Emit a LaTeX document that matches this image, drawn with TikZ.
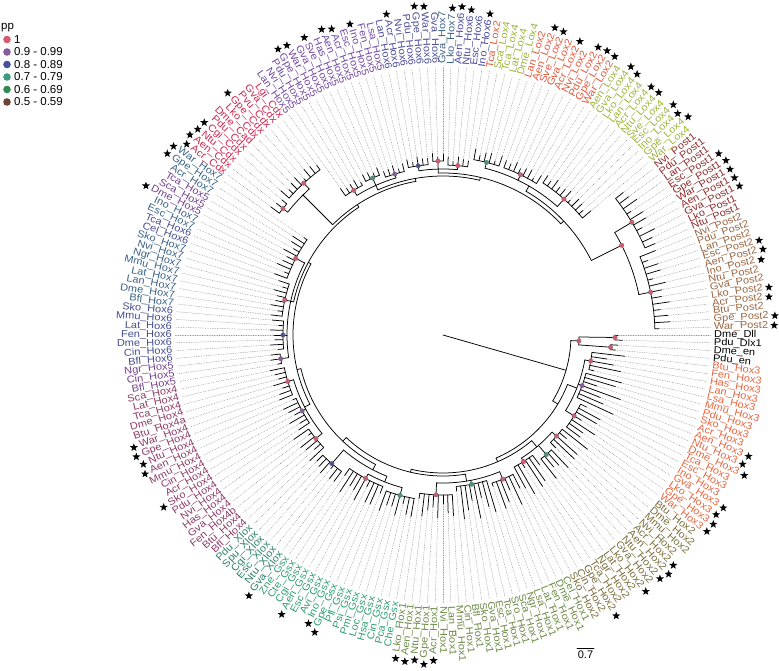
\documentclass[tikz,border=0pt]{standalone}
\usepackage{fontspec}
\usepackage{graphicx}
\setmainfont{Liberation Sans}
\usetikzlibrary{shapes.geometric}

\definecolor{chox3}{HTML}{E8653F}
\definecolor{chox2}{HTML}{7B6D3B}
\definecolor{chox1}{HTML}{6C8B47}
\definecolor{cgsx}{HTML}{2E9E6F}
\definecolor{cxlox}{HTML}{2C7F6E}
\definecolor{chox4}{HTML}{8C3A69}
\definecolor{chox5}{HTML}{73408E}
\definecolor{chox6}{HTML}{434D8F}
\definecolor{chox7}{HTML}{3A6287}
\definecolor{ccdx}{HTML}{D2274F}
\definecolor{choxv}{HTML}{7448A2}
\definecolor{choxvi}{HTML}{4B4C9C}
\definecolor{clox2}{HTML}{E4563A}
\definecolor{clox4}{HTML}{9DB53C}
\definecolor{cposti}{HTML}{8E2C2C}
\definecolor{cpostii}{HTML}{9A6541}
\definecolor{ppa}{HTML}{D45A6F}
\definecolor{ppb}{HTML}{8B5A9D}
\definecolor{ppc}{HTML}{47519B}
\definecolor{ppd}{HTML}{3D9B7C}
\definecolor{ppe}{HTML}{2F8B53}
\definecolor{ppf}{HTML}{6B4531}

\tikzset{
  branch/.style={line width=0.75pt,black},
  leader/.style={line width=0.45pt,gray!90,dash pattern=on 0.5pt off 1.2pt},
  leaflab/.style={font=\fontsize{10}{11}\selectfont,inner sep=0pt},
  legtext/.style={font=\fontsize{11.5}{13}\selectfont,inner sep=0pt,anchor=west},
  starmark/.style={star,star points=5,star point ratio=2.4,fill=black,inner sep=0pt,minimum size=8.5pt},
  ppdot/.style={draw=black!55,line width=0.25pt},
}

% leaf index -> angle: -idx*5/3 (216 leaves)
\newcommand\brn[3]{\draw[branch] ({-(#1)*5/3}:#2) -- ({-(#1)*5/3}:#3);}
\newcommand\arcn[3]{\draw[branch] ({-(#1)*5/3}:#3) arc[start angle={-(#1)*5/3},end angle={-(#2)*5/3},radius=#3];}
\newcommand\ppmark[3]{\filldraw[ppdot,fill=#3] ({-(#1)*5/3}:#2) circle (2.3);}
\newcommand\tipset[4]{\foreach \tp in {#1,...,#2}{%
  \pgfmathsetmacro\tiprad{#3+3+#4*abs(sin(\tp*67))}%
  \draw[branch] ({-\tp*5/3}:#3) -- ({-\tp*5/3}:\tiprad);
  \draw[leader] ({-\tp*5/3}:\tiprad) -- ({-\tp*5/3}:268);}}
\newcommand\clade[6]{%
  \pgfmathsetmacro\cmid{(#1+#2)/2}%
  \brn{\cmid}{#3}{#4}%
  \arcn{#1}{#2}{#4}%
  \tipset{#1}{#2}{#4}{#5}%
  \ppmark{\cmid}{#4}{#6}}
\newcommand\putleaf[4]{%
  \pgfmathsetmacro\lang{-(#1)*5/3}%
  \pgfmathtruncatemacro\lside{and(\lang<-90,\lang>-270)}%
  \ifnum\lside=1
    \node[leaflab,text=#3,anchor=east,rotate=\lang+180] (lab#1) at (\lang:271) {\scalebox{1.1}[1]{#2}};
    \ifnum#4=1 \path (lab#1.west) ++(\lang:6) node[starmark] {};\fi
  \else
    \node[leaflab,text=#3,anchor=west,rotate=\lang] (lab#1) at (\lang:271) {\scalebox{1.1}[1]{#2}};
    \ifnum#4=1 \path (lab#1.east) ++(\lang:6) node[starmark] {};\fi
  \fi}

\begin{document}
\begin{tikzpicture}[x=1pt,y=1pt,line cap=round,line join=round]
  \useasboundingbox (-443,-335) rectangle (336,335);

  % root and backbone
  \draw[branch] (0,0) -- (-16:128);
  \arcn{1.5}{18.6}{128}
  \brn{1.5}{128}{136} \arcn{0.5}{2.5}{136}
  \clade{0}{1}{136}{172}{5}{ppa}
  \clade{2}{3}{136}{168}{6}{ppa}
  \ppmark{1.5}{136}{ppa}
  \brn{18.6}{128}{134} \arcn{13}{40}{134}
  % Hox3
  \brn{13}{134}{144} \arcn{6}{19}{144}
  \clade{4}{8}{144}{150}{30}{ppa}
  \clade{9}{15}{144}{148}{38}{ppb}
  \clade{16}{22}{144}{154}{25}{ppa}
  \brn{40}{134}{138} \arcn{30}{62}{138}
  % Hox2
  \brn{30}{138}{146} \arcn{25}{34.5}{146}
  \clade{23}{27}{146}{152}{30}{ppa}
  \clade{28}{31}{146}{158}{22}{ppd}
  \clade{32}{37}{146}{150}{32}{ppa}
  \brn{62}{138}{141} \arcn{48.5}{80}{141}
  % Hox1
  \brn{48.5}{141}{148} \arcn{40.5}{55.5}{148}
  \clade{38}{43}{148}{156}{28}{ppa}
  \clade{44}{51}{148}{152}{32}{ppd}
  \clade{52}{59}{148}{160}{20}{ppa}
  \brn{80}{141}{146} \arcn{70.5}{100}{146}
  % Gsx, Xlox
  \brn{70.5}{146}{152} \arcn{67}{78.5}{152}
  \brn{67}{152}{158} \arcn{63}{71}{158}
  \clade{60}{66}{158}{166}{18}{ppd}
  \clade{67}{75}{158}{163}{22}{ppa}
  \clade{76}{81}{152}{170}{12}{ppc}
  \brn{100}{146}{150} \arcn{91.5}{125}{150}
  % Hox4
  \brn{91.5}{150}{156} \arcn{84.5}{98}{156}
  \clade{82}{87}{156}{164}{16}{ppa}
  \clade{88}{94}{156}{160}{14}{ppb}
  \clade{95}{101}{156}{162}{12}{ppa}
  \brn{125}{150}{153} \arcn{115.5}{142}{153}
  % Hox5-7
  \brn{115.5}{153}{156} \arcn{103}{124.5}{156}
  \clade{102}{104}{156}{164}{8}{ppb}
  \clade{105}{111}{156}{160}{10}{ppc}
  \clade{112}{119}{156}{162}{10}{ppa}
  \clade{120}{129}{156}{166}{12}{ppa}
  \brn{142}{153}{156} \arcn{135}{156}{156}
  % Cdx
  \brn{135}{156}{198} \arcn{131}{136.5}{198}
  \clade{130}{132}{198}{204}{8}{ppa}
  \clade{133}{140}{198}{206}{8}{ppa}
  \brn{156}{156}{159} \arcn{147.5}{170}{159}
  % Hox5 (top)
  \brn{147.5}{159}{164} \arcn{143}{152}{164}
  \clade{141}{145}{164}{170}{6}{ppa}
  \clade{146}{149}{164}{172}{5}{ppd}
  \clade{150}{154}{164}{168}{6}{ppb}
  \brn{170}{159}{162} \arcn{161}{190}{162}
  % Hox6 (top)
  \brn{161}{162}{166} \arcn{157}{165}{166}
  \clade{155}{159}{166}{171}{6}{ppc}
  \clade{160}{162}{166}{174}{5}{ppa}
  \clade{163}{167}{166}{170}{6}{ppa}
  \brn{190}{162}{166} \arcn{180}{200}{166}
  % Lox
  \brn{180}{166}{172} \arcn{170.5}{187}{172}
  \clade{168}{173}{172}{178}{8}{ppd}
  \clade{174}{181}{172}{178}{7}{ppa}
  \clade{182}{192}{172}{182}{8}{ppa}
  % Post
  \brn{200}{166}{200} \arcn{197.5}{209}{200}
  \clade{193}{202}{200}{220}{14}{ppa}
  \clade{203}{215}{200}{212}{14}{ppa}
  \ppmark{200}{200}{ppa}

  % labels
  \foreach \tx/\st [count=\i from 0] in {Dme\_Dll/0,Pdu\_Dlx1/0,Dme\_en/0,Pdu\_en/0}
    {\putleaf{\i}{\tx}{black}{\st}}
  \foreach \tx/\st [count=\i from 4] in {Btu\_Hox3/0,Fen\_Hox3/0,Has\_Hox3/0,Lan\_Hox3/0,Lsa\_Hox3/0,Mmu\_Hox3/0,Pdu\_Hox3/0,Sko\_Hox3/0,Acr\_Hox3/0,Aen\_Hox3/1,Ntu\_Hox3/1,Dme\_Hox3/1,Tca\_Hox3/0,Esc\_Hox3/0,Ino\_Hox3/0,Gva\_Hox3/1,Lko\_Hox3/1,Gpe\_Hox3/1,War\_Hox3/1}
    {\putleaf{\i}{\tx}{chox3}{\st}}
  \foreach \tx/\st [count=\i from 23] in {Btu\_Hox2/0,Dme\_Hox2/0,Mmu\_Hox2/0,Nvi\_Hox2/0,Acr\_Hox2/1,Aen\_Hox2/1,Ntu\_Hox2/1,Gva\_Hox2/0,Lko\_Hox2/1,Lat\_Hox2/0,Ngr\_Hox2/0,Tca\_Hox2/0,Gpe\_Hox2/1,Cin\_Hox2/0,Sko\_Hox2/0}
    {\putleaf{\i}{\tx}{chox2}{\st}}
  \foreach \tx/\st [count=\i from 38] in {Cel\_Hox1/0,Dme\_Hox1/0,Fen\_Hox1/0,Lat\_Hox1/0,Lsa\_Hox1/0,Ngr\_Hox1/0,Sca\_Hox1/0,Sro\_Hox1/0,Tca\_Hox1/0,Esc\_Hox1/0,Gva\_Hox1/0,Sko\_Hox1/0,Bfl\_Hox1/0,Cin\_Hox1/0,Mmu\_Hox1/0,Lan\_Box1/0,Nvi\_Hox1/0,Acr\_Hox1/1,Gpe\_Hox1/1,Ntu\_Hox1/1,Aen\_Hox1/1,Lko\_Hox1/1}
    {\putleaf{\i}{\tx}{chox1}{\st}}
  \foreach \tx/\st [count=\i from 60] in {Che\_Gsx/0,Pca\_Gsx/0,Cin\_Gsx/0,Hsa\_Gsx/0,Loc\_Gsx/0,Pmi\_Gsx/0,Psi\_Gsx/0,Pfl\_Gsx/0,Gpe\_Gsx/1,Ino\_Gsx/1,Avi\_Gsx/0,Esc\_Gsx/0,Aen\_Gsx/1,Cgi\_Gsx/0,Cte\_Gsx/0,Zne\_Gsx/0}
    {\putleaf{\i}{\tx}{cgsx}{\st}}
  \foreach \tx/\st [count=\i from 76] in {Gva\_Xlox/1,Ntu\_Xlox/0,Esc\_Xlox/0,Cgi\_Xlox/0,Spu\_Xlox/0,Pdu\_Xlox/0}
    {\putleaf{\i}{\tx}{cxlox}{\st}}
  \foreach \tx/\st [count=\i from 82] in {Bfl\_Hox4/0,Btu\_Hox4/0,Fen\_Hox4b/0,Gva\_Hox4/0,Has\_Hox4/0,Nvi\_Hox4/0,Pdu\_Hox4/0,Sko\_Hox4/1,Acr\_Hox4/0,Cin\_Hox4/0,Mmu\_Hox4/0,Aen\_Hox4/1,Ntu\_Hox4/1,Gpe\_Hox4/1,War\_Hox4/1,Btu\_Hox4a/0,Dme\_Hox4/0,Tca\_Hox4/0,Lat\_Hox4/0,Sca\_Hox4/0}
    {\putleaf{\i}{\tx}{chox4}{\st}}
  \foreach \tx/\cl/\st [count=\i from 102] in {Bfl\_Hox5/chox5/0,Cin\_Hox5/chox5/0,Ngr\_Hox5/chox5/0,Bfl\_Hox6/chox6/0,Cin\_Hox6/chox6/0,Dme\_Hox6/chox6/0,Fen\_Hox6/chox6/0,Lat\_Hox6/chox6/0,Mmu\_Hox6/chox6/0,Sko\_Hox6/chox6/0,Bfl\_Hox7/chox7/0,Dme\_Hox7/chox7/0,Lan\_Hox7/chox7/0,Lat\_Hox7/chox7/0,Mmu\_Hox7/chox7/0,Ngr\_Hox7/chox7/0,Nvi\_Hox7/chox7/0,Sko\_Hox7/chox7/0,Cel\_Hox6/chox6/0,Tca\_Hox6/chox6/0,Esc\_Hox7/chox7/0,Ino\_Hox7/chox7/0,Dme\_Hox5/chox5/1,Sca\_Hox5/chox5/0,Tca\_Hox5/chox5/0,Acr\_Hox7/chox7/0,Gpe\_Hox7/chox7/1,War\_Hox7/chox7/1}
    {\putleaf{\i}{\tx}{\cl}{\st}}
  \foreach \tx/\st [count=\i from 130] in {Acr\_Cdx/1,Aen\_Cdx/1,Ntu\_Cdx/1,Cgi\_Cdx/1,Pdu\_Cdx/0,Dme\_Cad/0,Lko\_Cdx/0,Gpe\_Cdx/1,Pvu\_Cdx/0,Gva\_Cdx/0,Lgi\_Cdx/0}
    {\putleaf{\i}{\tx}{ccdx}{\st}}
  \foreach \tx/\st [count=\i from 141] in {Lan\_Hox5/0,Nvi\_Hox5/0,Pdu\_Hox5/0,Gpe\_Hox5/1,War\_Hox5/1,Gva\_Hox5/0,Sve\_Hox5/1,Has\_Hox5/0,Aen\_Hox5/1,Acr\_Hox5/1,Esc\_Hox5/0,Ino\_Hox5/1,Fen\_Hox5/0,Lsa\_Hox5/0}
    {\putleaf{\i}{\tx}{choxv}{\st}}
  \foreach \tx/\cl/\st [count=\i from 155] in {Lan\_Hox6/choxvi/0,Acr\_Hox6/choxvi/1,Nvi\_Hox6/choxvi/0,Pdu\_Hox6/choxvi/0,Gpe\_Hox6/choxvi/1,War\_Hox6/choxvi/1,Gva\_Hox6/choxvi/0,Gva\_Hox7/chox7/0,Lko\_Hox7/chox7/1,Aen\_Hox6/choxvi/1,Ntu\_Hox6/choxvi/1,Esc\_Hox6/choxvi/0,Ino\_Hox6/choxvi/1}
    {\putleaf{\i}{\tx}{\cl}{\st}}
  \foreach \tx/\cl/\st [count=\i from 168] in {Tca\_Lox2/clox2/0,Sca\_Lox4/clox4/0,Tca\_Lox4/clox4/0,Lat\_Lox4/clox4/0,Dme\_Lox4/clox4/0,Lan\_Lox2/clox2/0,Aen\_Lox2/clox2/1,Sve\_Lox2/clox2/1,Gva\_Lox2/clox2/0,Acr\_Lox2/clox2/1,Nvi\_Lox2/clox2/0,Pdu\_Lox2/clox2/1,Gpe\_Lox2/clox2/1,War\_Lox2/clox2/1,Aen\_Lox4/clox4/0,Gva\_Lox4/clox4/1,Lko\_Lox4/clox4/1,Lan\_Lox4/clox4/0,Acr\_Lox4/clox4/1,Ntu\_Lox4/clox4/1,Sve\_Lox4/clox4/0,Esc\_Lox4/clox4/1,Ino\_Lox4/clox4/1,Gpe\_Lox4/clox4/1,War\_Lox4/clox4/0}
    {\putleaf{\i}{\tx}{\cl}{\st}}
  \foreach \tx/\st [count=\i from 193] in {Nvi\_Post1/0,Pdu\_Post1/0,Lan\_Post1/0,Esc\_Post1/1,Gpe\_Post1/1,War\_Post1/1,Aen\_Post1/1,Gva\_Post1/1,Lko\_Post1/0,Ntu\_Post1/0}
    {\putleaf{\i}{\tx}{cposti}{\st}}
  \foreach \tx/\st [count=\i from 203] in {Nvi\_Post2/0,Pdu\_Post2/0,Lan\_Post2/0,Esc\_Post2/1,Aen\_Post2/1,Ino\_Post2/1,Ntu\_Post2/0,Gva\_Post2/0,Lko\_Post2/1,Acr\_Post2/1,Btu\_Post2/0,Gpe\_Post2/1,War\_Post2/1}
    {\putleaf{\i}{\tx}{cpostii}{\st}}

  % legend
  \node[legtext] (pptitle) at (-442,307) {pp};
  \foreach \c/\t [count=\k from 0] in {ppa/1,ppb/0.9 - 0.99,ppc/0.8 - 0.89,ppd/0.7 - 0.79,ppe/0.6 - 0.69,ppf/0.5 - 0.59}{
    \fill[\c] (-436,{295.5-12.5*\k}) circle (3.8);
    \node[legtext] (leg\k) at (-429,{295.5-12.5*\k}) {\t};}

  % scale bar
  \coordinate (sb0) at (134,-313);
  \coordinate (sb1) at (151,-313);
  \draw[line width=0.7pt] (sb0) -- (sb1);
  \node[legtext,anchor=north,font=\fontsize{11}{12}\selectfont] (sbtext) at (142.5,-316) {0.7};
\end{tikzpicture}
\end{document}
